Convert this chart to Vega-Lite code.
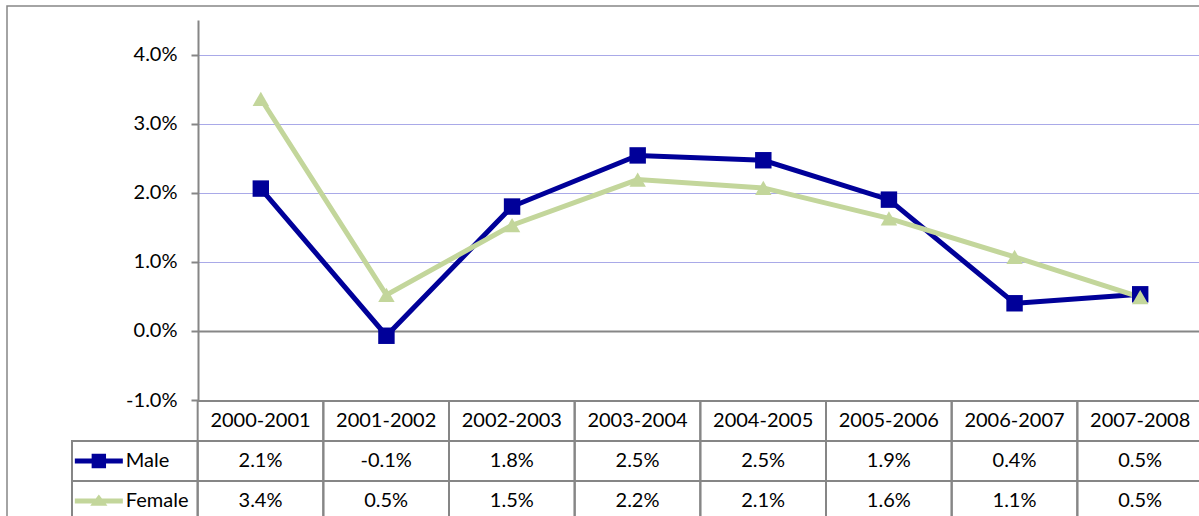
{
  "$schema": "https://vega.github.io/schema/vega-lite/v6.json",
  "width": 1200,
  "height": 520,
  "autosize": {"type": "none"},
  "padding": {"left": 7, "top": 6, "right": 0, "bottom": 0},
  "background": "#ffffff",
  "datasets": {
    "rates": [
      {"period": "2000-2001", "series": "Male", "value": 0.0206},
      {"period": "2001-2002", "series": "Male", "value": -0.0007},
      {"period": "2002-2003", "series": "Male", "value": 0.0180},
      {"period": "2003-2004", "series": "Male", "value": 0.0254},
      {"period": "2004-2005", "series": "Male", "value": 0.0247},
      {"period": "2005-2006", "series": "Male", "value": 0.0190},
      {"period": "2006-2007", "series": "Male", "value": 0.0040},
      {"period": "2007-2008", "series": "Male", "value": 0.0053},
      {"period": "2000-2001", "series": "Female", "value": 0.0336},
      {"period": "2001-2002", "series": "Female", "value": 0.0052},
      {"period": "2002-2003", "series": "Female", "value": 0.0153},
      {"period": "2003-2004", "series": "Female", "value": 0.0219},
      {"period": "2004-2005", "series": "Female", "value": 0.0207},
      {"period": "2005-2006", "series": "Female", "value": 0.0163},
      {"period": "2006-2007", "series": "Female", "value": 0.0107},
      {"period": "2007-2008", "series": "Female", "value": 0.0049}
    ]
  },
  "data": {"name": "rates"},
  "resolve": {"scale": {"x": "independent", "y": "independent", "shape": "independent"}},
  "layer": [
    {
      "encoding": {
        "x": {
          "field": "period",
          "type": "ordinal",
          "scale": {
            "type": "point",
            "domain": ["2000-2001", "2001-2002", "2002-2003", "2003-2004", "2004-2005", "2005-2006", "2006-2007", "2007-2008"],
            "range": [191, 1196],
            "padding": 0.5
          },
          "axis": null
        },
        "y": {
          "field": "value",
          "type": "quantitative",
          "scale": {"domain": [-0.01, 0.045], "range": [394, 14], "nice": false, "zero": false},
          "axis": {
            "title": null,
            "values": [-0.01, 0, 0.01, 0.02, 0.03, 0.04],
            "format": ".1%",
            "offset": -191,
            "domainColor": "#868686",
            "domainWidth": 2,
            "tickColor": "#868686",
            "tickWidth": 2,
            "tickSize": 7,
            "labelFont": "Lato",
            "labelFontSize": 20,
            "labelColor": "#000000",
            "labelPadding": 14,
            "grid": true,
            "gridColor": {"condition": {"test": "datum.value === 0", "value": "#868686"}, "value": "#a9a9e8"},
            "gridWidth": {"condition": {"test": "datum.value === 0", "value": 2}, "value": 1.2}
          }
        },
        "color": {
          "field": "series",
          "type": "nominal",
          "scale": {"domain": ["Male", "Female"], "range": ["#000099", "#c3d69b"]},
          "legend": null
        }
      },
      "layer": [
        {"mark": {"type": "line", "strokeWidth": 5}},
        {
          "mark": {"type": "point", "filled": true, "opacity": 1, "size": 270},
          "encoding": {
            "shape": {
              "field": "series",
              "type": "nominal",
              "scale": {"domain": ["Male", "Female"], "range": ["square", "triangle-up"]},
              "legend": null
            }
          }
        }
      ]
    },
    {
      "encoding": {
        "x": {
          "field": "period",
          "type": "nominal",
          "scale": {
            "type": "band",
            "domain": ["legend", "2000-2001", "2001-2002", "2002-2003", "2003-2004", "2004-2005", "2005-2006", "2006-2007", "2007-2008"],
            "range": [65, 1196],
            "paddingInner": 0,
            "paddingOuter": 0
          },
          "axis": null
        },
        "y": {
          "field": "series",
          "type": "nominal",
          "scale": {
            "type": "band",
            "domain": ["header", "Male", "Female"],
            "range": [395, 515],
            "paddingInner": 0,
            "paddingOuter": 0
          },
          "axis": null
        }
      },
      "layer": [
        {
          "transform": [{"filter": "datum.series === 'Male'"}],
          "mark": {"type": "rect", "fill": "transparent", "stroke": "#868686", "strokeWidth": 2},
          "encoding": {"y": {"datum": "header"}}
        },
        {
          "transform": [{"filter": "datum.series === 'Male'"}],
          "mark": {"type": "text", "font": "Lato", "fontSize": 20, "color": "#000000", "baseline": "middle"},
          "encoding": {"y": {"datum": "header"}, "text": {"field": "period"}}
        },
        {
          "mark": {"type": "rect", "fill": "transparent", "stroke": "#868686", "strokeWidth": 2}
        },
        {
          "mark": {"type": "text", "font": "Lato", "fontSize": 20, "color": "#000000", "baseline": "middle"},
          "encoding": {"text": {"field": "value", "type": "quantitative", "format": ".1%"}}
        },
        {
          "transform": [{"filter": "datum.period === '2000-2001'"}],
          "mark": {"type": "rect", "fill": "transparent", "stroke": "#868686", "strokeWidth": 2},
          "encoding": {"x": {"datum": "legend"}}
        },
        {
          "transform": [{"filter": "datum.period === '2000-2001'"}],
          "mark": {"type": "point", "filled": true, "opacity": 1, "size": 2304, "xOffset": -36},
          "encoding": {
            "x": {"datum": "legend"},
            "color": {"field": "series", "type": "nominal", "legend": null},
            "shape": {
              "field": "series",
              "type": "nominal",
              "scale": {
                "domain": ["Male", "Female"],
                "range": [
                  "M-1,-0.1H1V0.1H-1Z M-0.3,-0.3H0.3V0.3H-0.3Z",
                  "M-1,-0.1H1V0.1H-1Z M0,-0.27L0.36,0.2H-0.36Z"
                ]
              },
              "legend": null
            }
          }
        },
        {
          "transform": [{"filter": "datum.period === '2000-2001'"}],
          "mark": {"type": "text", "font": "Lato", "fontSize": 20, "color": "#000000", "baseline": "middle", "align": "left", "dx": -9},
          "encoding": {"x": {"datum": "legend"}, "text": {"field": "series"}}
        }
      ]
    }
  ],
  "config": {
    "view": {"stroke": "#868686", "strokeWidth": 1.5},
    "locale": {
      "number": {
        "decimal": ".",
        "thousands": ",",
        "grouping": [3],
        "currency": ["$", ""],
        "minus": "-"
      }
    }
  }
}
